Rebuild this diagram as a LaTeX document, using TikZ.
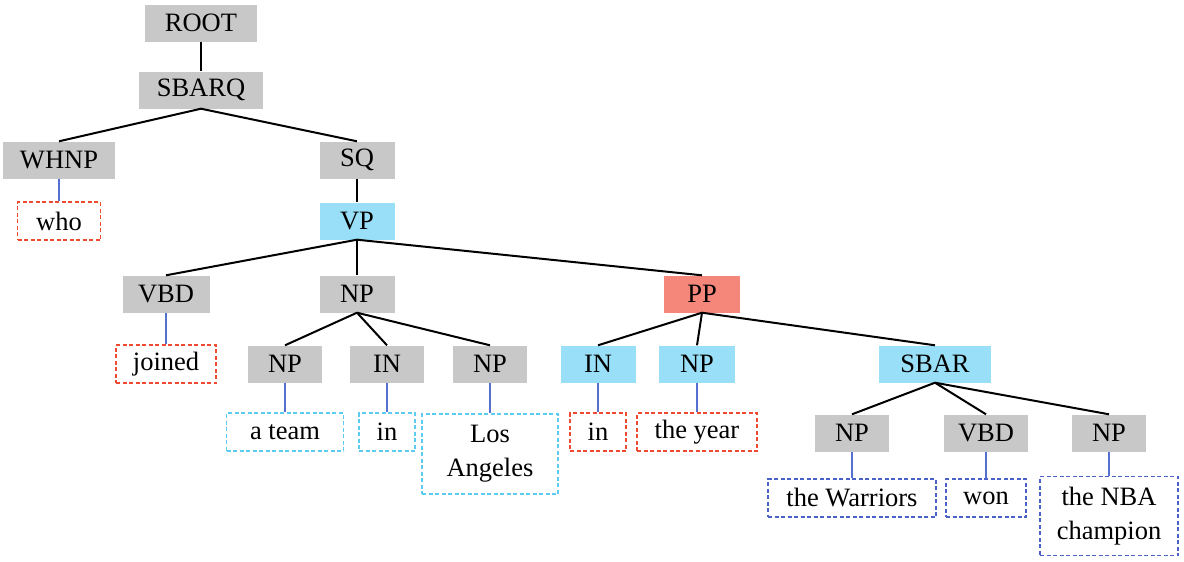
\documentclass[tikz,border=0pt]{standalone}
\usepackage{fontspec}
\setmainfont{Liberation Serif}
\usetikzlibrary{positioning}
\definecolor{TagGray}{HTML}{C8C8C8}
\definecolor{TagCyan}{HTML}{99DFF7}
\definecolor{TagSalmon}{HTML}{F4877A}
\definecolor{WordRed}{HTML}{EE4A30}
\definecolor{WordSky}{HTML}{5CCBF2}
\definecolor{WordBlue}{HTML}{4A62C8}
\definecolor{LeafLine}{HTML}{5470D0}

\begin{document}
\begin{tikzpicture}[x=1pt, y=-1pt,
    every node/.style={font=\fontsize{26.5}{34}\selectfont, align=center, inner sep=0pt},
    tag/.style={fill=TagGray, minimum height=37pt},
    taghl/.style={tag, fill=TagCyan},
    tagpp/.style={tag, fill=TagSalmon},
    word/.style={draw, line width=1.7pt, dash pattern=on 4pt off 2.5pt, fill=white, minimum height=38pt},
    wordred/.style={word, draw=WordRed},
    wordsky/.style={word, draw=WordSky},
    wordblue/.style={word, draw=WordBlue},
    branch/.style={line width=2pt, black},
    leaf/.style={line width=2pt, LeafLine}]
                \useasboundingbox (0,0) rectangle (1184,562);
                
                % constituents
                \node[tag, minimum width=112pt] (root) at (201,23) {ROOT};
                \node[tag, minimum width=124pt] (sbarq) at (201,90) {SBARQ};
                \node[tag, minimum width=112pt] (whnp) at (59,160) {WHNP};
                \node[tag, minimum width=75pt] (sq) at (357,160) {SQ};
                \node[taghl, minimum width=75pt] (vp) at (357,221) {VP};
                \node[tag, minimum width=87pt] (vbd) at (166,294) {VBD};
                \node[tag, minimum width=75pt] (np) at (357,294) {NP};
                \node[tagpp, minimum width=76pt] (pp) at (702,294) {PP};
                \node[tag, minimum width=74pt] (npa) at (285,364) {NP};
                \node[tag, minimum width=74pt] (ina) at (387,364) {IN};
                \node[tag, minimum width=74pt] (npb) at (490,364) {NP};
                \node[taghl, minimum width=75pt] (inb) at (598,364) {IN};
                \node[taghl, minimum width=76pt] (npc) at (697,364) {NP};
                \node[taghl, minimum width=112pt] (sbar) at (935,364) {SBAR};
                \node[tag, minimum width=74pt] (npd) at (852,433) {NP};
                \node[tag, minimum width=84pt] (vbdb) at (986,433) {VBD};
                \node[tag, minimum width=74pt] (npe) at (1109,433) {NP};
                
                % words
                \node[wordred, minimum width=83pt] (who) at (59,221) {who};
                \node[wordred, minimum width=100pt] (joined) at (166,364) {joined};
                \node[wordsky, minimum width=117pt] (ateam) at (285,432) {a team};
                \node[wordsky, minimum width=56pt] (ina-w) at (387,432) {in};
                \node[wordsky, minimum width=136pt, minimum height=80pt] (la) at (490,454) {Los\\Angeles};
                \node[wordred, minimum width=56pt] (inb-w) at (598,432) {in};
                \node[wordred, minimum width=120pt] (year) at (697,432) {the year};
                \node[wordblue, minimum width=168pt] (warriors) at (852,498) {the Warriors};
                \node[wordblue, minimum width=80pt] (won) at (986,498) {won};
                \node[wordblue, minimum width=138pt, minimum height=79pt] (nba) at (1109,516) {the NBA\\champion};
                
                % tree edges
                \draw[branch] (root.south) -- (sbarq.north);
                \draw[branch] (sbarq.south) -- (whnp.north);
                \draw[branch] (sbarq.south) -- (sq.north);
                \draw[branch] (sq.south) -- (vp.north);
                \draw[branch] (vp.south) -- (vbd.north);
                \draw[branch] (vp.south) -- (np.north);
                \draw[branch] (vp.south) -- (pp.north);
                \draw[branch] (np.south) -- (npa.north);
                \draw[branch] (np.south) -- (ina.north);
                \draw[branch] (np.south) -- (npb.north);
                \draw[branch] (pp.south) -- (inb.north);
                \draw[branch] (pp.south) -- (npc.north);
                \draw[branch] (pp.south) -- (sbar.north);
                \draw[branch] (sbar.south) -- (npd.north);
                \draw[branch] (sbar.south) -- (vbdb.north);
                \draw[branch] (sbar.south) -- (npe.north);
                
                % leaves
                \draw[leaf] (whnp) -- (who);
                \draw[leaf] (vbd) -- (joined);
                \draw[leaf] (npa) -- (ateam);
                \draw[leaf] (ina) -- (ina-w);
                \draw[leaf] (npb.south) -- (la.north);
                \draw[leaf] (inb) -- (inb-w);
                \draw[leaf] (npc) -- (year);
                \draw[leaf] (npd) -- (warriors);
                \draw[leaf] (vbdb) -- (won);
                \draw[leaf] (npe.south) -- (nba.north);
            \end{tikzpicture}
\end{document}
